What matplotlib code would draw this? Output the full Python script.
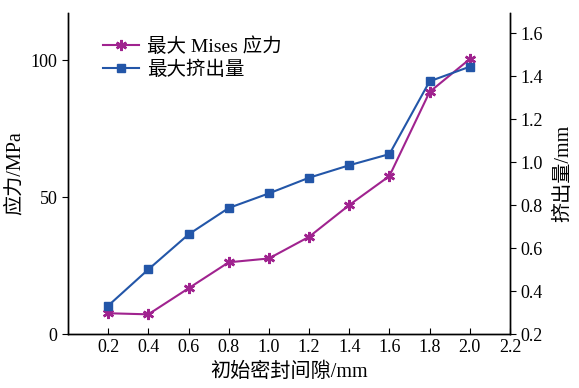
import matplotlib.pyplot as plt
import numpy as np

plt.rcParams['font.family'] = ['Liberation Serif', 'Noto Sans CJK SC']
plt.rcParams['mathtext.fontset'] = 'stix'

# initial seal gap (mm)
gap = [0.2, 0.4, 0.6, 0.8, 1.0, 1.2, 1.4, 1.6, 1.8, 2.0]
# max Mises stress (MPa)
stress = [7.6, 7.2, 16.7, 26.2, 27.6, 35.5, 47.1, 57.7, 88.4, 100.4]
# max extrusion (mm)
extrusion = [0.332, 0.501, 0.664, 0.787, 0.855, 0.928, 0.986, 1.038, 1.377, 1.445]

xticks = [0.2, 0.4, 0.6, 0.8, 1.0, 1.2, 1.4, 1.6, 1.8, 2.0, 2.2]
rticks = [0.2, 0.4, 0.6, 0.8, 1.0, 1.2, 1.4, 1.6]

purple = '#A0238F'
blue = '#2356A8'

fig = plt.figure(figsize=(5.79, 3.88), dpi=100)
ax = fig.add_axes([0.1174, 0.139, 0.7634, 0.8275])
ax2 = ax.twinx()

l1, = ax.plot(gap, stress, color=purple, lw=1.5, marker=(6, 2, 0), ms=8,
              mew=1.8, label='最大 Mises 应力')
l2, = ax2.plot(gap, extrusion, color=blue, lw=1.5, marker='s', ms=6,
               label='最大挤出量')

ax.set_xlim(0, 2.2)
ax.set_ylim(0, 117.2)
ax2.set_ylim(0.2, 1.695)
ax.set_xticks(xticks)
ax.set_xticklabels(['%.1f' % v for v in xticks])
ax.set_yticks([0, 50, 100])
ax2.set_yticks(rticks)
ax2.set_yticklabels(['%.1f' % v for v in rticks])

ax.tick_params(axis='x', direction='in', labelsize=13, length=4)
ax.tick_params(axis='y', direction='out', labelsize=13, length=4)
ax2.tick_params(axis='y', direction='out', labelsize=13, length=4)

for a in (ax, ax2):
    a.spines['top'].set_visible(False)
    for s in a.spines.values():
        s.set_linewidth(1.0)

ax.set_xlabel('初始密封间隙/mm', fontsize=14.5, labelpad=5)
ax.set_ylabel('应力/MPa', fontsize=14.5, labelpad=4)
ax2.set_ylabel('挤出量/mm', fontsize=14.5, labelpad=8)

ax.legend(handles=[l1, l2], loc='upper left', bbox_to_anchor=(0.079, 0.924),
          frameon=False, fontsize=14, handlelength=1.85, handletextpad=0.4,
          labelspacing=0.25, borderpad=0, borderaxespad=0)

fig.savefig('out.png', dpi=100)
